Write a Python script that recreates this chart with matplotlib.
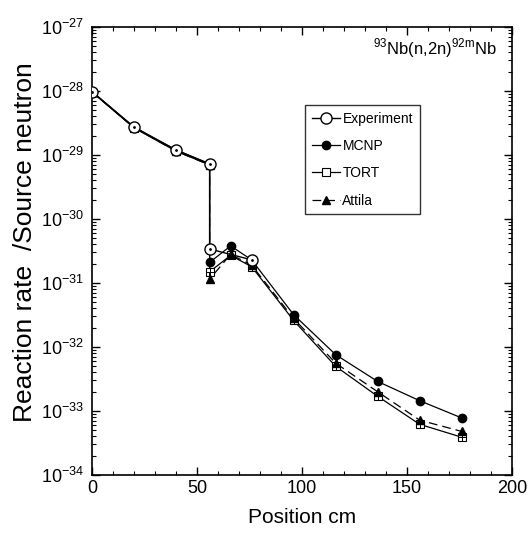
import numpy as np
import matplotlib.pyplot as plt
from matplotlib.ticker import FixedLocator, MultipleLocator, NullFormatter

plt.rcParams['font.family'] = ['Liberation Sans', 'DejaVu Sans']
plt.rcParams['mathtext.fontset'] = 'custom'
plt.rcParams['mathtext.rm'] = 'Liberation Sans'

# data
exp_x = [0, 20, 40, 56, 56, 76]
exp_y = [9.8e-29, 2.7e-29, 1.2e-29, 7.3e-30, 3.4e-31, 2.3e-31]

mcnp_x = [0, 20, 40, 56, 56, 66, 76, 96, 116, 136, 156, 176]
mcnp_y = [9.8e-29, 2.75e-29, 1.2e-29, 7.2e-30, 2.1e-31, 3.8e-31, 2.3e-31,
          3.2e-32, 7.6e-33, 2.9e-33, 1.45e-33, 7.8e-34]

tort_x = [0, 20, 40, 56, 56, 66, 76, 96, 116, 136, 156, 176]
tort_y = [9.6e-29, 2.65e-29, 1.15e-29, 7.0e-30, 1.5e-31, 2.7e-31, 1.8e-31,
          2.6e-32, 5.0e-33, 1.7e-33, 6.2e-34, 3.9e-34]

att_x = [0, 20, 40, 56, 56, 66, 76, 96, 116, 136, 156, 176]
att_y = [9.6e-29, 2.7e-29, 1.15e-29, 7.0e-30, 1.15e-31, 2.8e-31, 1.9e-31,
         2.8e-32, 5.6e-33, 2.0e-33, 7.2e-34, 4.8e-34]

fig = plt.figure(figsize=(5.3, 5.33), dpi=100)
ax = fig.add_axes([0.1736, 0.1088, 0.7925, 0.8405])

ax.plot(exp_x, exp_y, '-', color='black', lw=1.0, marker='o', ms=8,
        mfc='white', mec='black', label='Experiment', zorder=5)
ax.plot(exp_x, exp_y, linestyle='none', marker='.', ms=2, color='black', zorder=6)
ax.plot(mcnp_x, mcnp_y, '-', color='black', lw=0.9, marker='o', ms=6,
        mfc='black', label='MCNP', zorder=4)
ax.plot(tort_x, tort_y, '-', color='black', lw=0.9, marker='s', ms=6,
        mfc='white', mec='black', mew=0.8, label='TORT', zorder=3)
ax.plot(tort_x, tort_y, linestyle='none', marker='+', ms=6, mew=0.7,
        color='black', zorder=3)
ax.plot(att_x, att_y, '--', color='black', lw=0.9, marker='^', ms=6,
        mfc='black', dashes=(7, 4), label='Attila', zorder=3)

ax.set_yscale('log')
ax.set_xlim(0, 200)
ax.set_ylim(1e-34, 1e-27)
ax.xaxis.set_major_locator(MultipleLocator(50))
ax.xaxis.set_minor_locator(MultipleLocator(10))
decades = list(range(-34, -26))
ax.yaxis.set_major_locator(FixedLocator([10.0 ** k for k in decades]))
ax.yaxis.set_minor_locator(FixedLocator([m * 10.0 ** k for k in decades[:-1]
                                         for m in range(2, 10)]))
ax.yaxis.set_minor_formatter(NullFormatter())
ax.tick_params(which='both', direction='in', top=True, right=True, labelsize=13)
ax.tick_params(which='major', length=6, width=1)
ax.tick_params(which='minor', length=3, width=0.8)
ax.tick_params(axis='y', pad=6)
for s in ax.spines.values():
    s.set_linewidth(1.2)

ax.set_xlabel('Position cm', fontsize=15, labelpad=8)
ax.set_ylabel('Reaction rate  /Source neutron', fontsize=19)
ax.yaxis.set_label_coords(-0.13, 0.52)

ax.text(0.965, 0.952, r'$^{93}$Nb(n,2n)$^{\mathrm{92m}}$Nb', transform=ax.transAxes,
        ha='right', va='center', fontsize=12)

leg = ax.legend(loc='upper left', bbox_to_anchor=(0.507, 0.826), frameon=True,
                fancybox=False, edgecolor='black', fontsize=10, handlelength=2.0,
                borderpad=0.5, labelspacing=0.95, handletextpad=0.2,
                borderaxespad=0)
leg.get_frame().set_linewidth(1.0)

fig.savefig('out.png', dpi=100)
